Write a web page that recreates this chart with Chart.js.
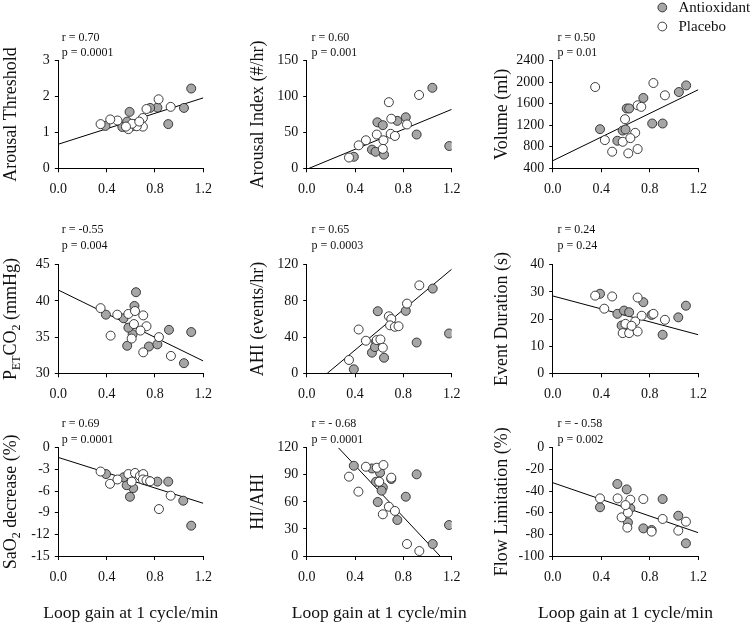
<!DOCTYPE html>
<html>
<head>
<meta charset="utf-8">
<script src="https://cdn.jsdelivr.net/npm/chart.js@4/dist/chart.umd.min.js"></script>
<style>
html,body{margin:0;padding:0;background:#fff;}
#wrap{position:relative;width:753px;height:625px;overflow:hidden;background:#fff;}
#wrap canvas{position:absolute;}
</style>
</head>
<body>
<div id="wrap"></div>
<script>
// ---------------- data ----------------
const seriesNames = ['Antioxidant', 'Placebo'];
const xTicks = [0, 0.4, 0.8, 1.2];
const xTitle = 'Loop gain at 1 cycle/min';

// Panel 1: Arousal Threshold
const p1Title = [['Arousal Threshold']];
const p1Stats = ['r = 0.70', 'p = 0.0001'];
const p1YTicks = [0, 1, 2, 3];
const p1Anti = [[1.10,2.22],[1.04,1.68],[0.91,1.23],[0.82,1.69],[0.76,1.68],[0.59,1.57],[0.53,1.15],[0.57,1.30],[0.39,1.18],[0.62,1.18]];
const p1Plac = [[0.83,1.92],[0.93,1.71],[0.73,1.65],[0.70,1.40],[0.70,1.16],[0.65,1.17],[0.58,1.09],[0.61,1.24],[0.49,1.33],[0.43,1.36],[0.35,1.23],[0.67,1.30],[0.56,1.16]];
const p1Fit = [[0,0.67],[1.2,1.96]];

// Panel 2: Arousal Index
const p2Title = [['Arousal Index (#/hr)']];
const p2Stats = ['r = 0.60', 'p = 0.001'];
const p2YTicks = [0, 50, 100, 150];
const p2Anti = [[1.04,112],[1.18,31],[0.91,47],[0.82,71],[0.75,66],[0.585,64],[0.63,60],[0.54,26],[0.57,23],[0.64,19],[0.39,16]];
const p2Plac = [[0.93,102],[0.68,92],[0.70,69],[0.83,61],[0.695,48],[0.73,45],[0.58,47],[0.49,39],[0.43,32],[0.35,15],[0.635,39],[0.63,27]];
const p2Fit = [[0.02,0],[1.2,82]];

// Panel 3: Volume
const p3Title = [['Volume (ml)']];
const p3Stats = ['r = 0.50', 'p = 0.01'];
const p3YTicks = [400, 800, 1200, 1600, 2000, 2400];
const p3Anti = [[1.10,1938],[1.04,1815],[0.906,1231],[0.82,1231],[0.747,1705],[0.61,1510],[0.63,1510],[0.577,1100],[0.39,1126],[0.533,911],[0.60,1120]];
const p3Plac = [[0.35,1908],[0.83,1982],[0.925,1754],[0.70,1569],[0.73,1540],[0.596,1311],[0.68,1058],[0.43,923],[0.49,708],[0.577,892],[0.64,960],[0.623,677],[0.70,757]];
const p3Fit = [[0,540],[1.2,1858]];

// Panel 4: PETCO2
const p4Title = [['P'],['ET','sub'],['CO'],['2','sub'],[' (mmHg)']];
const p4Stats = ['r = -0.55', 'p = 0.004'];
const p4YTicks = [30, 35, 40, 45];
const p4Anti = [[0.643,41.2],[0.63,39.3],[0.615,35.4],[0.57,33.8],[0.54,37.6],[0.58,36.3],[0.394,38.1],[0.75,33.7],[0.82,34.0],[0.916,36.0],[1.10,35.7],[1.04,31.4]];
const p4Plac = [[0.35,39.0],[0.488,38.1],[0.58,38.2],[0.635,38.6],[0.703,38.0],[0.73,36.5],[0.626,36.8],[0.68,35.9],[0.607,34.8],[0.433,35.2],[0.833,35.0],[0.703,32.9],[0.932,32.4]];
const p4Fit = [[0,41.5],[1.2,31.7]];

// Panel 5: AHI
const p5Title = [['AHI (events/hr)']];
const p5Stats = ['r = 0.65', 'p = 0.0003'];
const p5YTicks = [0, 20, 40, 60, 80, 100, 120];
const p5Anti = [[1.043,93.6],[1.178,44],[0.91,34],[0.82,69],[0.588,68.6],[0.574,35],[0.54,22.8],[0.64,17.2],[0.39,4.4],[0.565,29]];
const p5Plac = [[0.932,97.2],[0.83,77],[0.68,63],[0.70,60],[0.69,53],[0.73,51.4],[0.76,52],[0.43,48.4],[0.49,36],[0.58,36.7],[0.61,37.4],[0.63,28.3],[0.35,14.7]];
const p5Fit = [[0.17,0],[1.2,115]];

// Panel 6: Event Duration
const p6Title = [['Event Duration (s)']];
const p6Stats = ['r = 0.24', 'p = 0.24'];
const p6YTicks = [0, 10, 20, 30, 40];
const p6Anti = [[0.39,29.3],[0.747,26.2],[1.098,24.9],[1.035,20.6],[0.906,14.2],[0.533,21.9],[0.588,23.1],[0.63,22.5],[0.568,17.6],[0.637,17.0],[0.815,21.5]];
const p6Plac = [[0.35,28.6],[0.49,28.3],[0.70,27.9],[0.425,23.8],[0.83,21.9],[0.733,21.2],[0.925,19.7],[0.60,18.2],[0.68,19.1],[0.577,14.8],[0.63,14.8],[0.70,15.4],[0.65,17.5]];
const p6Fit = [[0,28.5],[1.2,14.2]];

// Panel 7: SaO2 decrease
const p7Title = [['SaO'],['2','sub'],[' decrease (%)']];
const p7Stats = ['r = 0.69', 'p = 0.0001'];
const p7YTicks = [-15, -12, -9, -6, -3, 0];
const p7Anti = [[1.034,-7.34],[1.10,-10.8],[0.91,-4.7],[0.82,-4.7],[0.75,-4.6],[0.593,-6.8],[0.62,-5.6],[0.566,-5.2],[0.54,-4.1],[0.395,-3.65]];
const p7Plac = [[0.35,-3.3],[0.428,-5.0],[0.49,-4.4],[0.58,-3.65],[0.635,-3.5],[0.676,-3.9],[0.703,-3.65],[0.70,-4.4],[0.607,-4.7],[0.73,-4.5],[0.76,-4.65],[0.93,-6.65],[0.833,-8.5]];
const p7Fit = [[0,-1.35],[1.2,-7.7]];

// Panel 8: HI/AHI
const p8Title = [['HI/AHI']];
const p8Stats = ['r = - 0.68', 'p = 0.0001'];
const p8YTicks = [0, 30, 60, 90, 120];
const p8Anti = [[0.39,100],[0.54,97],[0.607,92.3],[0.574,82.3],[0.63,76],[0.62,72.4],[0.588,59.8],[0.70,85.3],[0.75,39.9],[0.82,65.7],[0.91,90.5],[1.043,13.3],[1.178,34.3]];
const p8Plac = [[0.35,87.9],[0.428,71.3],[0.49,98.9],[0.58,97.8],[0.635,100.8],[0.60,82.3],[0.70,86.8],[0.68,54.6],[0.63,46.2],[0.73,49.9],[0.83,13.3],[0.932,5.5]];
const p8Fit = [[0.262,120],[1.103,0]];

// Panel 9: Flow Limitation
const p9Title = [['Flow Limitation (%)']];
const p9Stats = ['r = - 0.58', 'p = 0.002'];
const p9YTicks = [-100, -80, -60, -40, -20, 0];
const p9Anti = [[0.533,-33.5],[0.61,-38.5],[0.39,-55],[0.906,-47.4],[1.035,-62.8],[1.098,-88.3],[0.747,-74.5],[0.815,-76],[0.62,-69],[0.64,-56]];
const p9Plac = [[0.39,-46.8],[0.535,-46.8],[0.64,-48],[0.747,-47.4],[0.568,-64.3],[0.62,-60],[0.615,-73.8],[0.815,-77.5],[0.906,-65.8],[1.035,-76.6],[1.098,-68.3],[0.60,-53]];
const p9Fit = [[0,-32.3],[1.2,-78.5]];

// ---------------- layout & style ----------------
const FONT = "'Liberation Serif', 'Times New Roman', serif";
const INK = '#111111';
const GRAY = '#a6a6a6';
const EDGE = '#2a2a2a';

const cols = [
  {cx: 0,   cw: 245, l: 58.3,  r: 203.3, tx: 15.5,  sx: 61.7},
  {cx: 245, cw: 245, l: 306.7, r: 451.7, tx: 262.5, sx: 311.5},
  {cx: 490, cw: 263, l: 552.7, r: 698.3, tx: 506.5, sx: 557.5}
];
const rows = [
  {cy: 0,   ch: 200, t: 60.5,  b: 168.3, sy: [37.5, 53]},
  {cy: 200, ch: 200, t: 264.7, b: 373.3, sy: [230, 246]},
  {cy: 400, ch: 225, t: 447.7, b: 556,   sy: [424.3, 440], xt: 613.3}
];

const panels = [
  {title: p1Title, stats: p1Stats, yTicks: p1YTicks, anti: p1Anti, plac: p1Plac, fit: p1Fit},
  {title: p2Title, stats: p2Stats, yTicks: p2YTicks, anti: p2Anti, plac: p2Plac, fit: p2Fit},
  {title: p3Title, stats: p3Stats, yTicks: p3YTicks, anti: p3Anti, plac: p3Plac, fit: p3Fit, legend: true},
  {title: p4Title, stats: p4Stats, yTicks: p4YTicks, anti: p4Anti, plac: p4Plac, fit: p4Fit},
  {title: p5Title, stats: p5Stats, yTicks: p5YTicks, anti: p5Anti, plac: p5Plac, fit: p5Fit},
  {title: p6Title, stats: p6Stats, yTicks: p6YTicks, anti: p6Anti, plac: p6Plac, fit: p6Fit},
  {title: p7Title, stats: p7Stats, yTicks: p7YTicks, anti: p7Anti, plac: p7Plac, fit: p7Fit},
  {title: p8Title, stats: p8Stats, yTicks: p8YTicks, anti: p8Anti, plac: p8Plac, fit: p8Fit},
  {title: p9Title, stats: p9Stats, yTicks: p9YTicks, anti: p9Anti, plac: p9Plac, fit: p9Fit}
];

const wrap = document.getElementById('wrap');

function decoPlugin(p, col, row) {
  return {
    id: 'deco',
    afterDraw(chart) {
      const ctx = chart.ctx;
      const area = chart.chartArea;
      ctx.save();
      ctx.fillStyle = INK;
      // y-axis title with subscripts
      const big = 18, small = 12;
      let total = 0;
      p.title.forEach(s => {
        ctx.font = (s[1] === 'sub' ? small : big) + 'px ' + FONT;
        total += ctx.measureText(s[0]).width;
      });
      ctx.save();
      ctx.translate(col.tx - col.cx, (area.top + area.bottom) / 2);
      ctx.rotate(-Math.PI / 2);
      ctx.textBaseline = 'alphabetic';
      ctx.textAlign = 'left';
      let x = -total / 2;
      p.title.forEach(s => {
        const sub = s[1] === 'sub';
        ctx.font = (sub ? small : big) + 'px ' + FONT;
        ctx.fillText(s[0], x, sub ? 4 : 0);
        x += ctx.measureText(s[0]).width;
      });
      ctx.restore();
      // x-axis title (bottom row only), centred under the plot area
      if (row.xt) {
        ctx.font = '17.5px ' + FONT;
        ctx.textAlign = 'center';
        ctx.textBaseline = 'middle';
        ctx.fillText(xTitle, (area.left + area.right) / 2, row.xt - row.cy);
      }
      // r / p statistics
      ctx.font = '12px ' + FONT;
      ctx.textAlign = 'left';
      ctx.textBaseline = 'middle';
      p.stats.forEach((s, i) => ctx.fillText(s, col.sx - col.cx, row.sy[i] - row.cy));
      // legend (series order as in seriesNames)
      if (p.legend) {
        seriesNames.forEach((name, i) => {
          const d = chart.data.datasets.find(ds => ds.label === name);
          const cyy = 7.5 + i * 19 - row.cy;
          const cxx = 662.3 - col.cx;
          ctx.beginPath();
          ctx.arc(cxx, cyy, 4.4, 0, Math.PI * 2);
          ctx.fillStyle = d.backgroundColor;
          ctx.fill();
          ctx.lineWidth = 0.9;
          ctx.strokeStyle = EDGE;
          ctx.stroke();
          ctx.fillStyle = INK;
          ctx.font = '15px ' + FONT;
          ctx.textAlign = 'left';
          ctx.textBaseline = 'middle';
          ctx.fillText(name, 678.5 - col.cx, cyy + 0.5);
        });
      }
      ctx.restore();
    }
  };
}

panels.forEach((p, idx) => {
  const col = cols[idx % 3];
  const row = rows[Math.floor(idx / 3)];
  const cv = document.createElement('canvas');
  cv.width = col.cw; cv.height = row.ch;
  cv.style.left = col.cx + 'px'; cv.style.top = row.cy + 'px';
  cv.style.width = col.cw + 'px'; cv.style.height = row.ch + 'px';
  wrap.appendChild(cv);
  const yW = col.l - col.cx;
  const xH = row.cy + row.ch - row.b;
  const yMin = p.yTicks[0], yMax = p.yTicks[p.yTicks.length - 1];

  new Chart(cv, {
    type: 'scatter',
    data: {
      datasets: [
        {label: seriesNames[0], data: p.anti, backgroundColor: GRAY, borderColor: EDGE,
         borderWidth: 0.9, pointRadius: 4.5, order: 2},
        {label: seriesNames[1], data: p.plac, backgroundColor: '#ffffff', borderColor: EDGE,
         borderWidth: 0.9, pointRadius: 4.5, order: 1},
        {data: p.fit, showLine: true, borderColor: '#000', borderWidth: 1, pointRadius: 0,
         backgroundColor: 'rgba(0,0,0,0)', order: 3}
      ]
    },
    options: {
      responsive: false,
      devicePixelRatio: 1,
      animation: false,
      events: [],
      layout: {padding: {left: 0, top: row.t - row.cy, right: col.cx + col.cw - col.r, bottom: 0}},
      plugins: {legend: {display: false}, tooltip: {enabled: false}},
      scales: {
        x: {
          type: 'linear', min: 0, max: 1.2,
          afterBuildTicks: s => { s.ticks = xTicks.map(v => ({value: v})); },
          afterFit: s => { s.height = xH; },
          ticks: {color: INK, font: {family: FONT, size: 14}, padding: 8.5, maxRotation: 0,
                  callback: v => Number(v).toFixed(1)},
          grid: {display: true, drawOnChartArea: false, drawTicks: true, tickLength: 4, tickColor: '#000', tickWidth: 1},
          border: {display: true, color: '#000', width: 1}
        },
        y: {
          type: 'linear', min: yMin, max: yMax,
          afterBuildTicks: s => { s.ticks = p.yTicks.map(v => ({value: v})); },
          afterFit: s => { s.width = yW; },
          ticks: {color: INK, font: {family: FONT, size: 14}, padding: 5, callback: v => String(v)},
          grid: {display: true, drawOnChartArea: false, drawTicks: true, tickLength: 3.5, tickColor: '#000', tickWidth: 1},
          border: {display: true, color: '#000', width: 1}
        }
      }
    },
    plugins: [decoPlugin(p, col, row)]
  });
});
</script>
</body>
</html>
